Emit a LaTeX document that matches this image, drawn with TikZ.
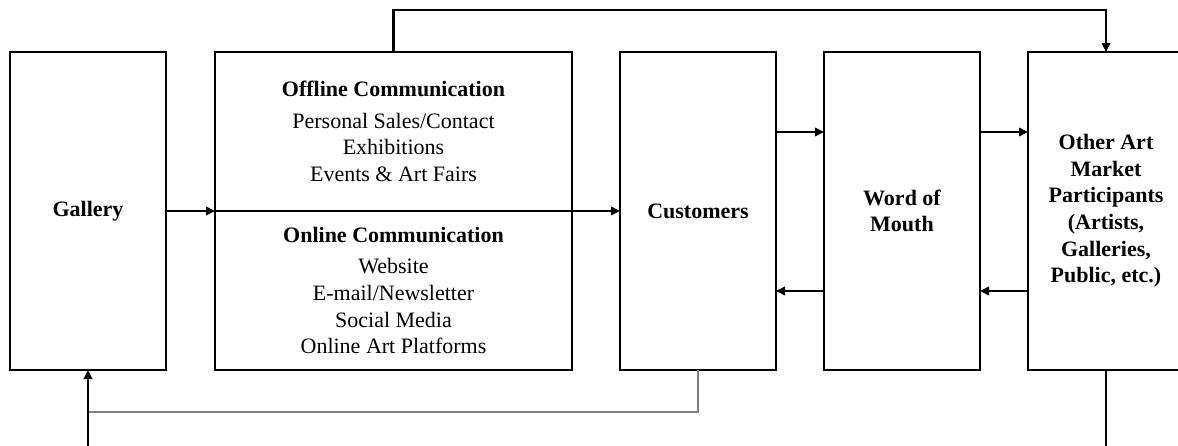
\documentclass[tikz,border=0pt]{standalone}
\usepackage{fontspec}
\setmainfont{Liberation Serif}
\usetikzlibrary{arrows.meta,calc,positioning}
\definecolor{fbgray}{RGB}{128,128,128}

\begin{document}
\begin{tikzpicture}[x=0.5pt,y=-0.5pt,node distance=24pt,
      font=\fontsize{11}{13.3}\selectfont,
      tall/.style={draw,line width=.9pt,outer sep=0pt,minimum width=78pt,minimum height=159pt,align=center,font=\fontsize{11}{13.3}\selectfont\bfseries},
      half/.style={draw,line width=.9pt,outer sep=0pt,minimum width=178.5pt,minimum height=79.5pt,align=center},
      arr/.style={-{Triangle[length=4.5pt,width=4.2pt]},line width=1.2pt},
      fb/.style={fbgray,line width=.6pt}]
  \useasboundingbox (0,0) rectangle (1178,445);
  \clip (0,0) rectangle (1178,445);
  \node[tall] (gallery) at (88,211) {Gallery};
  \node[half,anchor=south west] (offline) at ([xshift=24.5pt]gallery.east) {\textbf{Offline Communication}\\[2.5pt] Personal Sales/Contact\\ Exhibitions\\ Events \& Art Fairs};
  \node[half,below=0pt of offline] (online) {\textbf{Online Communication}\\[2.5pt] Website\\ E-mail/Newsletter\\ Social Media\\ Online Art Platforms};
  \node[tall,right=of offline.south east] (customers) {Customers};
  \node[tall,right=of customers] (wom) {Word of\\ Mouth};
  \node[tall,right=of wom] (other) {Other Art\\ Market\\ Participants\\ (Artists,\\ Galleries,\\ Public, etc.)};
  \draw[arr] (gallery) -- (offline.south west);
  \draw[arr] (offline.south west) -- (customers);
  \draw[arr] ([yshift=39.5pt]customers.east) -- ([yshift=39.5pt]wom.west);
  \draw[arr] ([yshift=39.5pt]wom.east) -- ([yshift=39.5pt]other.west);
  \draw[arr] ([yshift=-40pt]other.west) -- ([yshift=-40pt]wom.east);
  \draw[arr] ([yshift=-40pt]wom.west) -- ([yshift=-40pt]customers.east);
  \draw[arr] (offline.north) -- ++(0,-42) -| (other.north);
  \draw[fb] (customers.south) |- ([yshift=-21pt]gallery.south);
  \draw[arr] (other.south) -- ++(0,100) -| (gallery.south);
\end{tikzpicture}
\end{document}
